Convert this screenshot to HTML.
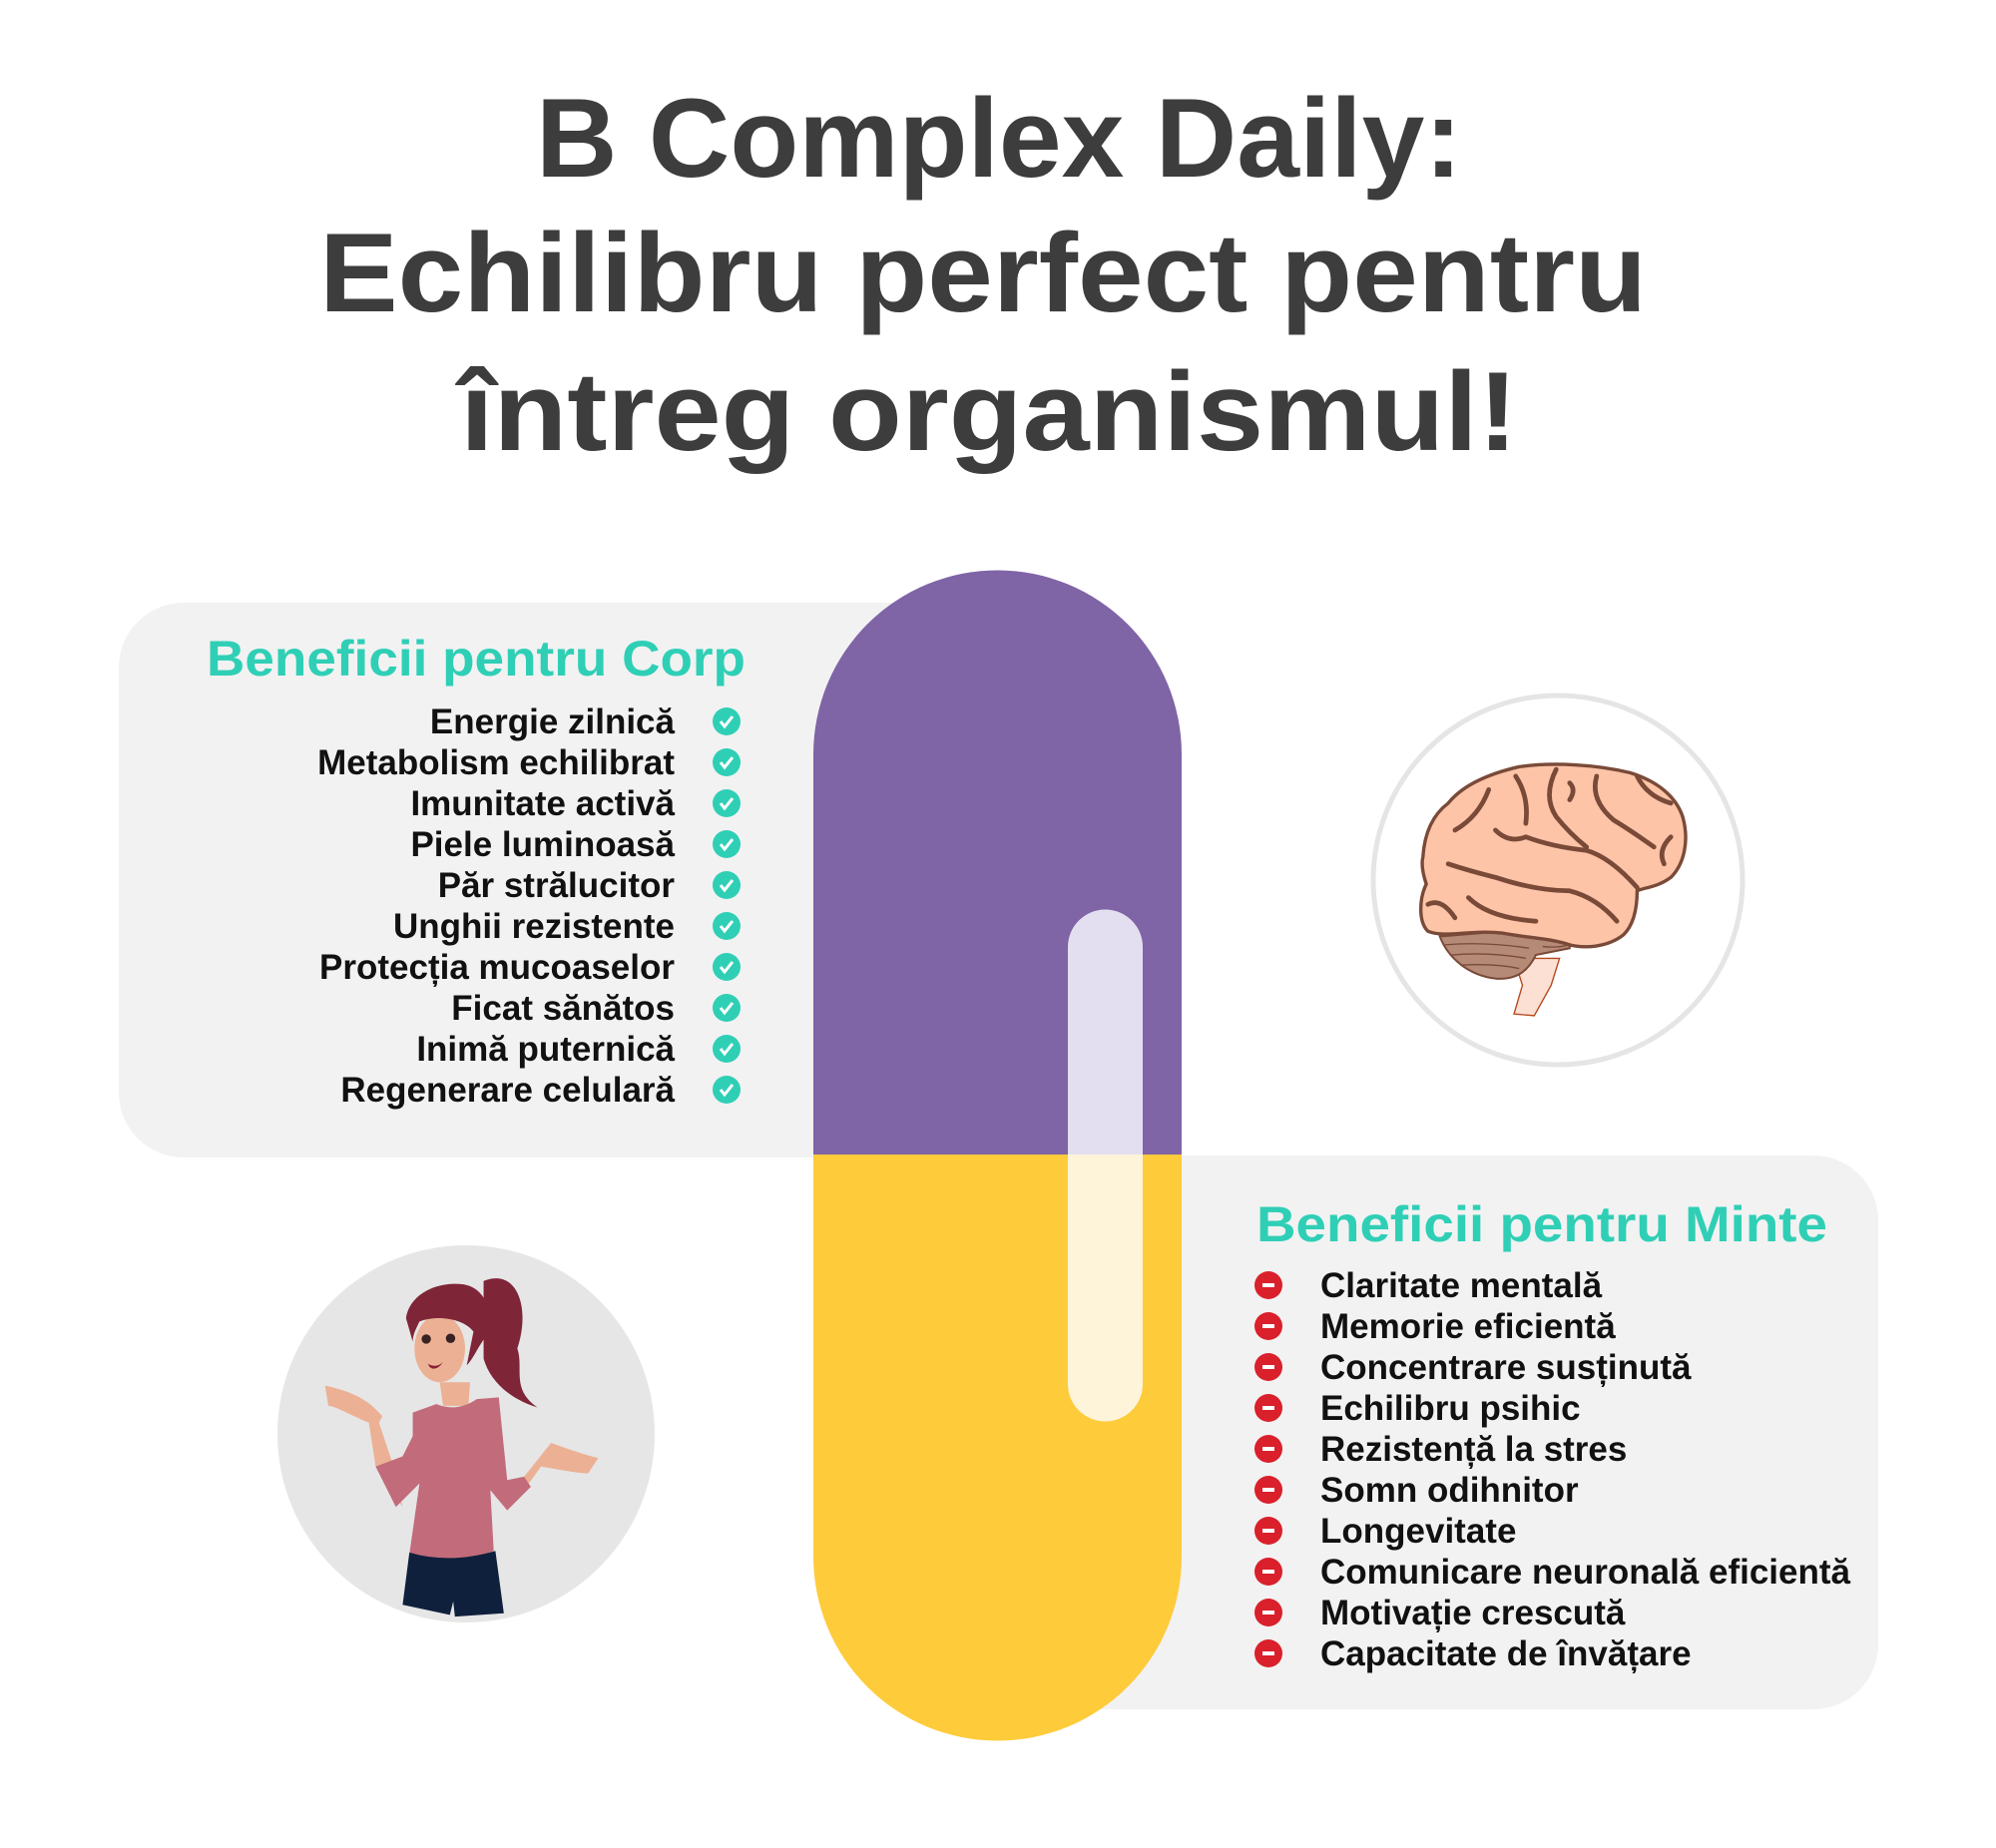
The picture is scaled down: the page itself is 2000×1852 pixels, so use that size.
<!DOCTYPE html>
<html><head><meta charset="utf-8"><style>
html,body{margin:0;padding:0;background:#fff;}
svg{display:block;}
text{font-family:"Liberation Sans",sans-serif;font-weight:bold;}
</style></head><body>
<svg width="2000" height="1852" viewBox="0 0 2000 1852" xmlns="http://www.w3.org/2000/svg">
<rect width="2000" height="1852" fill="#fff"/>
<!-- Title -->
<g fill="#3d3d3d" font-size="112">
<text x="537" y="177" textLength="928" lengthAdjust="spacingAndGlyphs">B Complex Daily:</text>
<text x="320" y="312" textLength="1330" lengthAdjust="spacingAndGlyphs">Echilibru perfect pentru</text>
<text x="461" y="451" textLength="1060" lengthAdjust="spacingAndGlyphs">întreg organismul!</text>
</g>
<!-- panels -->
<rect x="119" y="604" width="1000" height="556" rx="65" fill="#f2f2f2"/>
<rect x="900" y="1158" width="982" height="555" rx="65" fill="#f2f2f2"/>
<!-- pill -->
<path d="M815 1157 V756 A184.5 184.5 0 0 1 1184 756 V1157 Z" fill="#7f64a6"/>
<path d="M815 1157 V1560 A184.5 184.5 0 0 0 1184 1560 V1157 Z" fill="#fecb3b"/>
<path d="M1070 1157 V949 A37.5 37.5 0 0 1 1145 949 V1157 Z" fill="#e3dff0"/>
<path d="M1070 1157 V1387 A37.5 37.5 0 0 0 1145 1387 V1157 Z" fill="#fef4da"/>
<!-- left list -->
<text x="207" y="677" font-size="50" fill="#2fcfb6" textLength="540" lengthAdjust="spacingAndGlyphs">Beneficii pentru Corp</text>
<g font-size="35" fill="#111" text-anchor="end">
<text x="676" y="735">Energie zilnică</text>
<text x="676" y="776">Metabolism echilibrat</text>
<text x="676" y="817">Imunitate activă</text>
<text x="676" y="858">Piele luminoasă</text>
<text x="676" y="899">Păr strălucitor</text>
<text x="676" y="940">Unghii rezistente</text>
<text x="676" y="981">Protecția mucoaselor</text>
<text x="676" y="1022">Ficat sănătos</text>
<text x="676" y="1063">Inimă puternică</text>
<text x="676" y="1104">Regenerare celulară</text>
</g>
<g>
<g transform="translate(728,723)"><circle r="14" fill="#2fcfb6"/><path d="M-6 0 L-2 5 L6 -5" stroke="#fff" stroke-width="3" fill="none"/></g>
<g transform="translate(728,764)"><circle r="14" fill="#2fcfb6"/><path d="M-6 0 L-2 5 L6 -5" stroke="#fff" stroke-width="3" fill="none"/></g>
<g transform="translate(728,805)"><circle r="14" fill="#2fcfb6"/><path d="M-6 0 L-2 5 L6 -5" stroke="#fff" stroke-width="3" fill="none"/></g>
<g transform="translate(728,846)"><circle r="14" fill="#2fcfb6"/><path d="M-6 0 L-2 5 L6 -5" stroke="#fff" stroke-width="3" fill="none"/></g>
<g transform="translate(728,887)"><circle r="14" fill="#2fcfb6"/><path d="M-6 0 L-2 5 L6 -5" stroke="#fff" stroke-width="3" fill="none"/></g>
<g transform="translate(728,928)"><circle r="14" fill="#2fcfb6"/><path d="M-6 0 L-2 5 L6 -5" stroke="#fff" stroke-width="3" fill="none"/></g>
<g transform="translate(728,969)"><circle r="14" fill="#2fcfb6"/><path d="M-6 0 L-2 5 L6 -5" stroke="#fff" stroke-width="3" fill="none"/></g>
<g transform="translate(728,1010)"><circle r="14" fill="#2fcfb6"/><path d="M-6 0 L-2 5 L6 -5" stroke="#fff" stroke-width="3" fill="none"/></g>
<g transform="translate(728,1051)"><circle r="14" fill="#2fcfb6"/><path d="M-6 0 L-2 5 L6 -5" stroke="#fff" stroke-width="3" fill="none"/></g>
<g transform="translate(728,1092)"><circle r="14" fill="#2fcfb6"/><path d="M-6 0 L-2 5 L6 -5" stroke="#fff" stroke-width="3" fill="none"/></g>
</g>
<!-- right list -->
<text x="1259" y="1244" font-size="50" fill="#2fcfb6" textLength="572" lengthAdjust="spacingAndGlyphs">Beneficii pentru Minte</text>
<g font-size="35" fill="#111">
<text x="1323" y="1300">Claritate mentală</text>
<text x="1323" y="1341">Memorie eficientă</text>
<text x="1323" y="1382">Concentrare susținută</text>
<text x="1323" y="1423">Echilibru psihic</text>
<text x="1323" y="1464">Rezistență la stres</text>
<text x="1323" y="1505">Somn odihnitor</text>
<text x="1323" y="1546">Longevitate</text>
<text x="1323" y="1587">Comunicare neuronală eficientă</text>
<text x="1323" y="1628">Motivație crescută</text>
<text x="1323" y="1669">Capacitate de învățare</text>
</g>
<g fill="#d9202b">
<circle cx="1271" cy="1288" r="14"/><circle cx="1271" cy="1329" r="14"/><circle cx="1271" cy="1370" r="14"/><circle cx="1271" cy="1411" r="14"/><circle cx="1271" cy="1452" r="14"/><circle cx="1271" cy="1493" r="14"/><circle cx="1271" cy="1534" r="14"/><circle cx="1271" cy="1575" r="14"/><circle cx="1271" cy="1616" r="14"/><circle cx="1271" cy="1657" r="14"/>
</g>
<g fill="#fff">
<rect x="1265" y="1286" width="12" height="4"/><rect x="1265" y="1327" width="12" height="4"/><rect x="1265" y="1368" width="12" height="4"/><rect x="1265" y="1409" width="12" height="4"/><rect x="1265" y="1450" width="12" height="4"/><rect x="1265" y="1491" width="12" height="4"/><rect x="1265" y="1532" width="12" height="4"/><rect x="1265" y="1573" width="12" height="4"/><rect x="1265" y="1614" width="12" height="4"/><rect x="1265" y="1655" width="12" height="4"/>
</g>
<!-- brain -->
<circle cx="1561" cy="882" r="185" fill="#fff" stroke="#e5e5e5" stroke-width="5"/>
<g transform="translate(1370,690) scale(0.338)">
<path d="M435 800 L570 800 L545 880 L495 970 L435 965 L460 880 Z" fill="#fde0d4" stroke="#b5471c" stroke-width="4"/>
<path d="M215 735 C240 800 300 850 380 860 C450 865 480 830 500 790 L600 770 L600 740 L400 720 Z" fill="#b58a76" stroke="#7a4a38" stroke-width="6"/>
<g stroke="#7a4a38" stroke-width="4" fill="none">
<path d="M230 760 Q350 750 480 770"/><path d="M250 790 Q360 780 470 800"/><path d="M280 820 Q380 815 450 830"/><path d="M520 765 Q560 770 600 760"/>
</g>
<path d="M165 500 C170 420 200 370 240 340 C280 290 350 255 450 232 C550 218 680 225 780 250 C860 275 915 320 935 380 C955 450 940 520 900 560 C860 590 820 590 800 600 C800 650 790 700 760 730 C710 770 640 770 600 760 C540 740 480 740 400 725 C300 715 230 740 180 720 C150 690 155 620 175 580 C165 550 160 520 165 500 Z" fill="#fdc4a8" stroke="#7a4a38" stroke-width="10"/>
<g stroke="#7a4a38" stroke-width="14" fill="none" stroke-linecap="round">
<path d="M380 560 Q500 600 600 600 Q680 620 740 690"/>
<path d="M240 520 Q300 540 380 560"/>
<path d="M470 440 Q550 470 650 480 Q720 500 800 590"/>
<path d="M360 300 Q330 380 260 420"/>
<path d="M440 260 Q480 320 470 400"/>
<path d="M560 240 Q520 320 560 380 Q600 430 650 470"/>
<path d="M680 260 Q660 330 730 390 Q780 420 850 470"/>
<path d="M800 260 Q830 320 900 340"/>
<path d="M300 620 Q360 680 500 690"/>
<path d="M180 640 Q220 620 260 680"/>
<path d="M600 330 Q620 300 600 280"/>
<path d="M380 420 Q420 460 470 440"/>
<path d="M880 520 Q860 480 900 440"/>
</g>
</g>
<!-- woman -->
<circle cx="467" cy="1437" r="189" fill="#e6e6e6"/>
<g transform="translate(275,1250) scale(0.338)">
<path d="M620 100 C720 60 760 180 720 300 C740 360 700 420 780 475 C700 450 640 400 620 330 Z" fill="#7f2538"/>
<path d="M150 410 C200 420 260 440 300 480 L320 500 L310 520 L350 640 L380 770 L300 650 L280 520 C230 500 180 470 160 470 Z" fill="#ecb194"/>
<path d="M960 625 C900 610 850 590 820 580 L740 680 L690 780 L740 720 L790 650 C850 660 900 670 930 670 Z" fill="#ecb194"/>
<path d="M490 400 L580 400 L575 470 L500 470 Z" fill="#ecb194"/>
<path d="M410 490 L480 465 Q540 490 600 450 L665 445 L690 690 L740 680 L760 710 L690 780 L640 720 L650 900 Q560 940 400 910 L430 700 L360 770 L300 650 L380 620 L410 560 Z" fill="#c26b7a"/>
<path d="M400 905 Q520 940 655 900 L680 1085 L535 1095 L530 1050 L520 1090 L380 1060 Z" fill="#0f203c"/>
<ellipse cx="490" cy="300" rx="75" ry="100" fill="#ecb194"/>
<path d="M390 210 C400 140 480 100 560 110 C620 120 650 180 630 260 C600 300 590 330 570 350 L590 250 C560 210 480 200 430 220 C420 240 410 260 410 280 Z" fill="#7f2538"/>
<circle cx="450" cy="272" r="14" fill="#3b2222"/><circle cx="522" cy="270" r="14" fill="#3b2222"/>
<path d="M455 345 Q480 360 500 340 Q480 370 460 355 Z" fill="#8b1f3a"/>
</g>
</svg>
</body></html>
